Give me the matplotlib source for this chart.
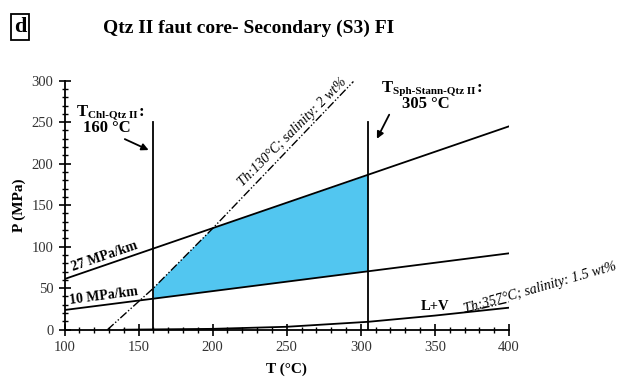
import matplotlib.pyplot as plt
from matplotlib.ticker import MultipleLocator
from matplotlib.transforms import offset_copy

plt.rcParams['font.family'] = 'Liberation Serif'

# data
grad_T = [100, 400]
grad27_P = [61, 245]
grad10_P = [23.7, 92]
iso130_T = [129, 160, 200, 295]
iso130_P = [0, 50, 122, 299]
iso357_T = [370, 400]
iso357_P = [21, 33.5]
lv_T = [140, 200, 250, 305, 350, 400]
lv_P = [0, 1, 3.5, 9.5, 17, 26.5]
fill_T = [160, 160, 200, 305, 305]
fill_P = [37.5, 50, 122, 186, 70.5]
t_chl = 160
t_sph = 305
vline_top = 250

fig = plt.figure(figsize=(6.22, 3.77), dpi=100)
ax = fig.add_axes([0.1037, 0.1255, 0.7146, 0.6605])

ax.fill(fill_T, fill_P, color='#52c6f0', lw=0)
ax.plot(grad_T, grad27_P, color='black', lw=1.3)
ax.plot(grad_T, grad10_P, color='black', lw=1.3)
ax.plot(lv_T, lv_P, color='black', lw=1.3)
ax.plot([t_chl, t_chl], [0, vline_top], color='black', lw=1.3)
ax.plot([t_sph, t_sph], [0, vline_top], color='black', lw=1.3)
ax.plot(iso130_T, iso130_P, color='black', lw=1.0, dashes=(6, 1.5, 1, 1.5, 1, 1.5))
ax.plot(iso357_T, iso357_P, color='black', lw=1.0, dashes=(6, 1.5, 1, 1.5, 1, 1.5))

ax.set_xlim(100, 400)
ax.set_ylim(0, 300)
ax.spines['top'].set_visible(False)
ax.spines['right'].set_visible(False)
ax.spines['left'].set_linewidth(1.3)
ax.spines['bottom'].set_linewidth(1.3)
ax.xaxis.set_major_locator(MultipleLocator(50))
ax.xaxis.set_minor_locator(MultipleLocator(10))
ax.yaxis.set_major_locator(MultipleLocator(50))
ax.yaxis.set_minor_locator(MultipleLocator(10))
ax.tick_params(which='major', direction='inout', length=9, width=1.2, labelsize=10.5, colors='black')
ax.tick_params(which='minor', direction='inout', length=5, width=1.0)
for lab in ax.get_xticklabels() + ax.get_yticklabels():
    lab.set_color('#333333')

ax.set_xlabel('T (°C)', fontsize=11, fontweight='bold', labelpad=6)
ax.set_ylabel('P (MPa)', fontsize=11, fontweight='bold', labelpad=4)

# gradient labels
ax.text(127, 88, '27 MPa/km', rotation=19, fontsize=10, fontweight='bold', ha='center', va='center')
ax.text(126.5, 41, '10 MPa/km', rotation=7.5, fontsize=10, fontweight='bold', ha='center', va='center')
ax.text(350, 28.5, 'L+V', fontsize=10.5, fontweight='bold', ha='center', va='center')

ax.text(254, 238, 'Th:130°C; salinity: 2 wt%', rotation=45, fontsize=10, style='italic',
        ha='center', va='center', rotation_mode='anchor')
ax.text(421, 50, 'Th:357°C; salinity: 1.5 wt%', rotation=16, fontsize=10, style='italic',
        ha='center', va='center', rotation_mode='anchor', clip_on=False)


def temp_label(x, y, sub, value_xy, value):
    t = ax.text(x, y, 'T', fontsize=12, fontweight='bold', ha='left', va='baseline')
    fig.canvas.draw()
    r = fig.canvas.get_renderer()
    bb = t.get_window_extent(r)
    trans = offset_copy(ax.transData, fig=fig, x=bb.width / fig.dpi * 72, y=-1.2, units='points')
    s = ax.text(x, y, sub, fontsize=8, fontweight='bold', ha='left', va='baseline', transform=trans)
    fig.canvas.draw()
    bb2 = s.get_window_extent(r)
    trans2 = offset_copy(ax.transData, fig=fig, x=(bb.width + bb2.width) / fig.dpi * 72 + 1, y=0, units='points')
    ax.text(x, y, ':', fontsize=12, fontweight='bold', ha='left', va='baseline', transform=trans2)
    ax.text(value_xy[0], value_xy[1], value, fontsize=12, fontweight='bold', ha='center', va='center')


temp_label(108.4, 257.5, 'Chl-Qtz II', (128.7, 242.5), '160 °C')
temp_label(314, 286, 'Sph-Stann-Qtz II', (344, 272), '305 °C')

ax.annotate('', xy=(158.5, 215), xytext=(139, 231),
            arrowprops=dict(arrowstyle='-|>', color='black', lw=1.3, mutation_scale=10))
ax.annotate('', xy=(310, 227), xytext=(320, 262),
            arrowprops=dict(arrowstyle='-|>', color='black', lw=1.3, mutation_scale=10))

fig.text(0.4, 0.926, 'Qtz II faut core- Secondary (S3) FI', fontsize=14, fontweight='bold',
         ha='center', va='center')
fig.text(0.032, 0.928, 'd', fontsize=16, fontweight='bold', ha='center', va='center',
         bbox=dict(boxstyle='square,pad=0.12', fc='white', ec='black', lw=1.3))

plt.savefig('out.png', dpi=100)
plt.close()
